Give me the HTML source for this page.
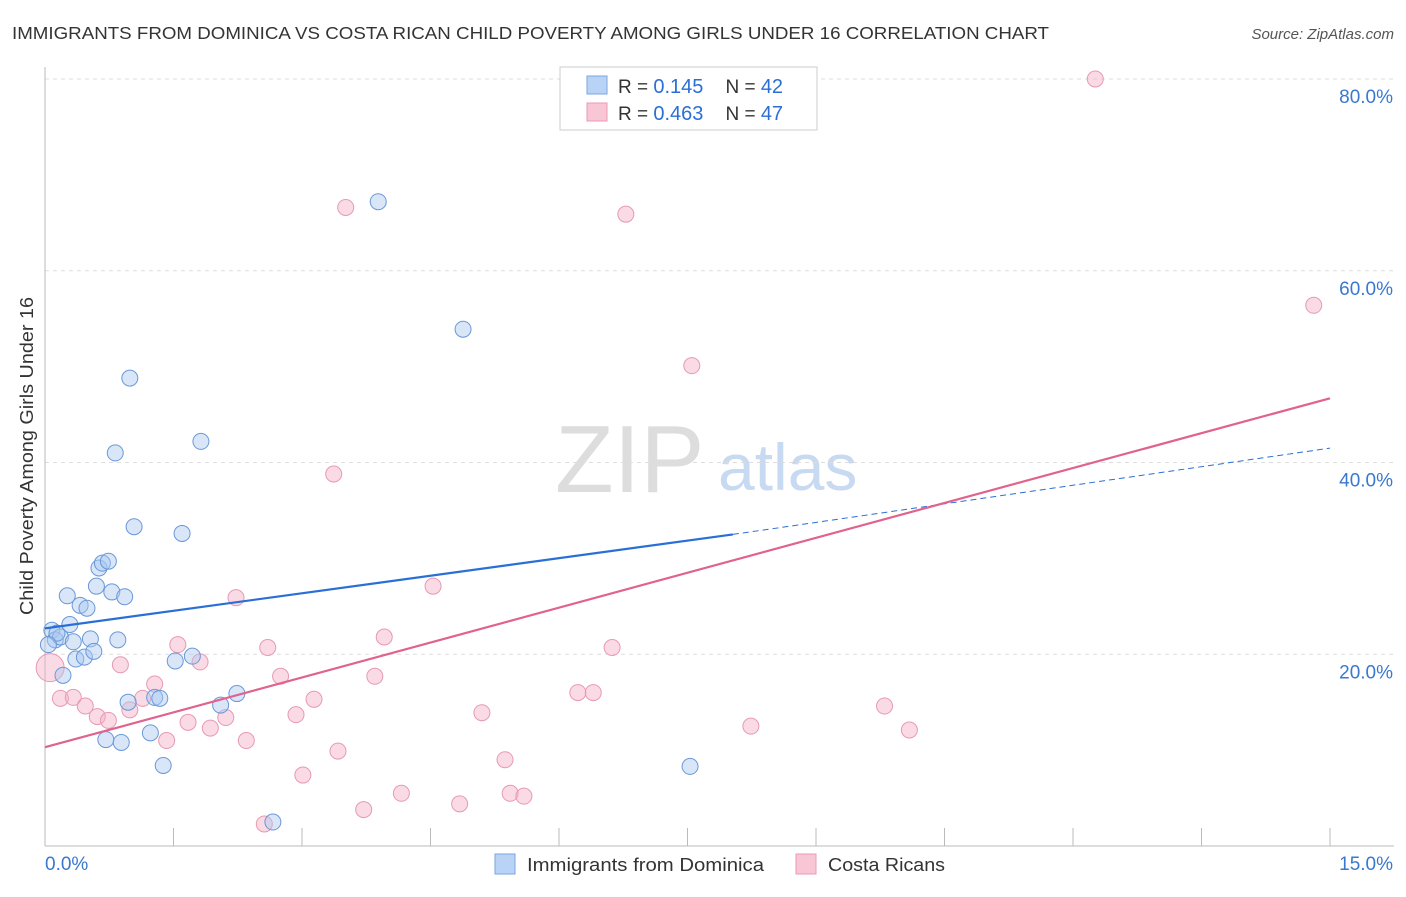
<!DOCTYPE html>
<html><head><meta charset="utf-8"><style>
body{margin:0;background:#fff;font-family:"Liberation Sans",sans-serif;}
svg text{font-family:"Liberation Sans",sans-serif;}
</style></head><body>
<svg id="c" width="1406" height="892" xmlns="http://www.w3.org/2000/svg">
<text x="12" y="39" font-size="17.5" fill="#333" textLength="1037" lengthAdjust="spacingAndGlyphs">IMMIGRANTS FROM DOMINICA VS COSTA RICAN CHILD POVERTY AMONG GIRLS UNDER 16 CORRELATION CHART</text>
<text x="1394" y="39" font-size="15" fill="#555" font-style="italic" text-anchor="end">Source: ZipAtlas.com</text>
<text x="33" y="456" font-size="18" fill="#333" text-anchor="middle" textLength="318" lengthAdjust="spacingAndGlyphs" transform="rotate(-90 33 456)">Child Poverty Among Girls Under 16</text>
<text x="555" y="492" font-size="96" fill="#ddd" font-family="Liberation Serif">ZIP</text>
<text x="718" y="490" font-size="66" fill="#c8daf2">atlas</text>
<g id="grid"></g><g id="marks"></g>
<g>
<rect x="560" y="67" width="257" height="63" fill="#fff" stroke="#ccc"/>
<rect x="587" y="76" width="20" height="18" fill="#b8d3f5" stroke="#7aa6e0"/>
<rect x="587" y="103" width="20" height="18" fill="#f9c6d5" stroke="#eb9ab3"/>
<text x="618" y="93" font-size="19" fill="#333">R = <tspan fill="#2a6fd6" font-size="20">0.145</tspan><tspan dx="22">N = </tspan><tspan fill="#2a6fd6" font-size="20">42</tspan></text>
<text x="618" y="120" font-size="19" fill="#333">R = <tspan fill="#2a6fd6" font-size="20">0.463</tspan><tspan dx="22">N = </tspan><tspan fill="#2a6fd6" font-size="20">47</tspan></text>
</g>
<g>
<rect x="495" y="854" width="20" height="20" fill="#b8d3f5" stroke="#7aa6e0"/>
<text x="527" y="871" font-size="18" fill="#333" textLength="237" lengthAdjust="spacingAndGlyphs">Immigrants from Dominica</text>
<rect x="796" y="854" width="20" height="20" fill="#f9c6d5" stroke="#eb9ab3"/>
<text x="828" y="871" font-size="18" fill="#333" textLength="117" lengthAdjust="spacingAndGlyphs">Costa Ricans</text>
</g>
</svg>
<script>
const yTicks=[20,40,60,80];
const yTickLabels=["20.0%","40.0%","60.0%","80.0%"];
const xTicks=[0,1.5,3,4.5,6,7.5,9,10.5,12,13.5,15];
const blueX=[0.08,0.12,0.18,0.14,0.21,0.26,0.29,0.33,0.36,0.41,0.46,0.49,0.53,0.57,0.60,0.63,0.67,0.74,0.78,0.85,0.93,0.99,1.04,0.82,0.71,0.89,0.97,1.23,1.28,1.34,1.38,1.52,1.60,1.72,1.82,2.05,2.24,2.66,3.89,4.88,7.53,0.04];
const blueY=[22.5,21.5,21.8,22.2,17.8,26.1,23.1,21.3,19.5,25.1,19.7,24.8,21.6,20.3,27.1,29.0,29.5,29.7,26.5,21.5,26.0,48.8,33.3,41.0,11.1,10.8,15.0,11.8,15.5,15.4,8.4,19.3,32.6,19.8,42.2,14.7,15.9,2.5,67.2,53.9,8.3,21.0];
const pinkX=[0.06,0.18,0.33,0.47,0.61,0.74,0.88,0.99,1.14,1.28,1.42,1.55,1.67,1.81,1.93,2.11,2.23,2.35,2.56,2.60,2.75,2.93,3.01,3.14,3.42,3.37,3.51,3.72,3.85,3.96,4.16,4.53,4.84,5.10,5.37,5.43,5.59,6.22,6.40,6.62,6.78,7.55,8.24,9.80,10.09,12.26,14.81];
const pinkY=[18.6,15.4,15.5,14.6,13.5,13.1,18.9,14.2,15.4,16.9,11.0,21.0,12.9,19.2,12.3,13.4,25.9,11.0,2.3,20.7,17.7,13.7,7.4,15.3,9.9,38.8,66.6,3.8,17.7,21.8,5.5,27.1,4.4,13.9,9.0,5.5,5.2,16.0,16.0,20.7,65.9,50.1,12.5,14.6,12.1,80.0,56.4];
const blueLine=[[0,22.7],[8.03,32.5],[15,41.5]];
const pinkLine=[[0,10.3],[15,46.7]];
const NS="http://www.w3.org/2000/svg";
const X=v=>45+v*1285/15, Y=v=>846-v*9.5875;
function mk(t,a,p){const e=document.createElementNS(NS,t);for(const k in a)e.setAttribute(k,a[k]);p.appendChild(e);return e;}
const g=document.getElementById('grid'), m=document.getElementById('marks');
yTicks.forEach((t,i)=>{
 const l=mk('line',{x1:45,x2:1394,y1:Y(t),y2:Y(t),stroke:'#ddd','stroke-dasharray':'4,4'},g);
 
 
 const tx=mk('text',{x:1393,y:Y(t)+24,'font-size':19,fill:'#3a78d0','text-anchor':'end'},g);
 tx.textContent=yTickLabels[i];
 
 
});
const tl=mk('line',{x1:45,x2:1394,y1:79,y2:79,stroke:'#ddd','stroke-dasharray':'4,4'},g);


const ax=mk('line',{x1:45,x2:1394,y1:846,y2:846,stroke:'#bbb'},g);


const ay=mk('line',{x1:45,x2:45,y1:67,y2:846,stroke:'#bbb'},g);


xTicks.forEach(t=>{const l=mk('line',{x1:X(t),x2:X(t),y1:828,y2:846,stroke:'#bbb'},g);
 
 });
const x0=mk('text',{x:45,y:870,'font-size':19,fill:'#3a78d0'},g);x0.textContent='0.0%';


const x1=mk('text',{x:1393,y:870,'font-size':19,fill:'#3a78d0','text-anchor':'end'},g);x1.textContent='15.0%';


pinkX.forEach((v,i)=>{const c=mk('circle',{cx:X(v),cy:Y(pinkY[i]),r:i==0?14:8,fill:'rgba(245,175,198,0.45)',stroke:'#e899b2','stroke-width':1},m);
 
 });
blueX.forEach((v,i)=>{const c=mk('circle',{cx:X(v),cy:Y(blueY[i]),r:8,fill:'rgba(168,200,240,0.45)',stroke:'#6a98d8','stroke-width':1},m);
 
 });
const b1=mk('line',{x1:X(blueLine[0][0]),y1:Y(blueLine[0][1]),x2:X(blueLine[1][0]),y2:Y(blueLine[1][1]),stroke:'#2a6fd6','stroke-width':2.2},m);


const b2=mk('line',{x1:X(blueLine[1][0]),y1:Y(blueLine[1][1]),x2:X(blueLine[2][0]),y2:Y(blueLine[2][1]),stroke:'#2a6fd6','stroke-width':1,'stroke-dasharray':'6,4'},m);


const p1=mk('line',{x1:X(pinkLine[0][0]),y1:Y(pinkLine[0][1]),x2:X(pinkLine[1][0]),y2:Y(pinkLine[1][1]),stroke:'#e0628e','stroke-width':2.2},m);


</script>
</body></html>
